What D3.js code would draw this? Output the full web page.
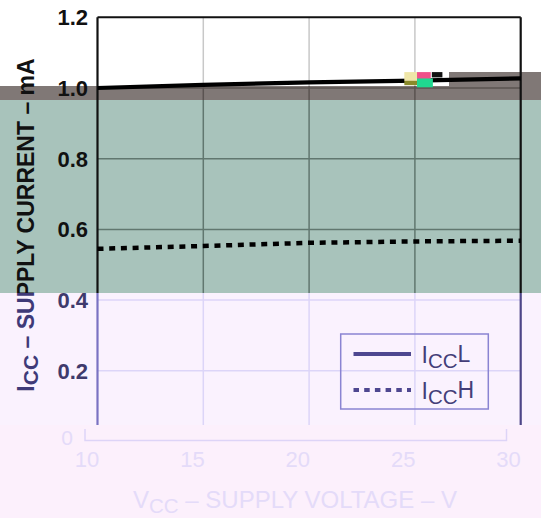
<!DOCTYPE html>
<html><head><meta charset="utf-8">
<script src="https://cdn.jsdelivr.net/npm/d3@7/dist/d3.min.js"></script>
<style>html,body{margin:0;padding:0;background:#fff}svg{display:block}</style>
</head><body>
<script>
// ---- data ----
const vcc = [10, 15, 20, 25, 30];
const iccL = [1.0, 1.009, 1.016, 1.021, 1.027];
const iccH = [0.545, 0.553, 0.562, 0.566, 0.568];
const xTicks = [10, 15, 20, 25, 30];
const yTicks = [0.2, 0.4, 0.6, 0.8, 1.0, 1.2];
const yZeroTick = [0];
const seriesNames = ["L", "H"];

const W = 541, H = 518;
const FONT = "'Liberation Sans', Arial, Helvetica, sans-serif";
const svg = d3.select("body").append("svg").attr("width", W).attr("height", H);

const x = d3.scaleLinear().domain([10, 30]).range([97.5, 520.7]);
const y = d3.scaleLinear().domain([0, 1.2]).range([441.5, 17.3]);
const xb = d3.scaleLinear().domain([10, 30]).range([86.5, 508]);

// colour bands of the reference picture
const bands = [
  {id: "top", rects: [[0, 0, 449, 86], [449, 0, 92, 72]], bg: "#ffffff",
   pal: {grid: "#c8c8c8", frameL: "#111", frameR: "#111", tick: "#111", title: "#111", line: "#000"}},
  {id: "gray", rects: [[0, 86, 541, 14], [449, 72, 92, 14]], bg: "#807876",
   pal: {grid: "#5a5351", frameL: "#111", frameR: "#111", tick: "#111", title: "#111", line: "#000"}},
  {id: "teal", rects: [[0, 100, 541, 193]], bg: "#a8c3bb",
   pal: {grid: "#61776f", frameL: "#111", frameR: "#111", tick: "#111", title: "#111", line: "#000"}},
  {id: "pink", rects: [[0, 293, 541, 132]], bg: "#faf2fe",
   pal: {grid: "#dcd5f8", frameL: "#7a72c2", frameR: "#4d4688", tick: "#3f3a6c", title: "#3f3a78",
         line: "#4e4790", box: "#8a84d2", legendText: "#443e78"}},
  {id: "bottom", rects: [[0, 425, 541, 93]], bg: "#fcf0fc", pal: null}
];

const defs = svg.append("defs");
bands.forEach(b => {
  const cp = defs.append("clipPath").attr("id", "clip-" + b.id);
  b.rects.forEach(r => cp.append("rect").attr("x", r[0]).attr("y", r[1]).attr("width", r[2]).attr("height", r[3]));
  b.rects.forEach(r => svg.append("rect").attr("x", r[0]).attr("y", r[1]).attr("width", r[2]).attr("height", r[3]).attr("fill", b.bg));
});

function drawChart(g, p) {
  // grid
  g.selectAll(".hg").data(yTicks.filter(v => v < 1.2)).join("line")
    .attr("x1", x(10)).attr("x2", x(30)).attr("y1", d => y(d)).attr("y2", d => y(d))
    .attr("stroke", p.grid).attr("stroke-width", 1.5);
  g.selectAll(".vg").data(xTicks.slice(1, -1)).join("line")
    .attr("x1", d => x(d)).attr("x2", d => x(d)).attr("y1", y(1.2)).attr("y2", y(0))
    .attr("stroke", p.grid).attr("stroke-width", 1.5);
  // frame
  g.append("line").attr("x1", x(10)).attr("x2", x(30)).attr("y1", y(1.2)).attr("y2", y(1.2)).attr("stroke", p.frameL).attr("stroke-width", 2);
  g.append("line").attr("x1", x(10)).attr("x2", x(10)).attr("y1", y(1.2)).attr("y2", y(0)).attr("stroke", p.frameL).attr("stroke-width", 2.2);
  g.append("line").attr("x1", x(30)).attr("x2", x(30)).attr("y1", y(1.2)).attr("y2", y(0)).attr("stroke", p.frameR).attr("stroke-width", 2.2);
  // y tick labels
  g.selectAll(".yt").data(yTicks).join("text")
    .attr("x", 88).attr("y", d => y(d)).attr("dy", "0.36em")
    .attr("text-anchor", "end").attr("font-family", FONT).attr("font-weight", "bold")
    .attr("font-size", 22).attr("fill", p.tick).text(d => d3.format(".1f")(d));
  // y title
  const t = g.append("text").attr("transform", "translate(33.5,225) rotate(-90)")
    .attr("text-anchor", "middle").attr("font-family", FONT).attr("font-weight", "bold")
    .attr("font-size", 23).attr("fill", p.title);
  t.append("tspan").text("I");
  t.append("tspan").attr("dy", 4).attr("font-size", 21).text("CC");
  t.append("tspan").attr("dy", -4).text(" \u2013 SUPPLY CURRENT \u2013 mA");
  // series
  const line = d3.line().x((d, i) => x(vcc[i])).y(d => y(d));
  g.append("path").datum(iccL).attr("d", line).attr("fill", "none")
    .attr("stroke", p.line).attr("stroke-width", 4.2);
  g.append("path").datum(iccH).attr("d", line).attr("fill", "none")
    .attr("stroke", p.line).attr("stroke-width", 4.5).attr("stroke-dasharray", "6 5.7");
  // legend
  if (p.box) {
    g.append("rect").attr("x", 340.7).attr("y", 334).attr("width", 147.6).attr("height", 75)
      .attr("fill", "none").attr("stroke", p.box).attr("stroke-width", 1.5);
    seriesNames.forEach((s, i) => {
      const ly = 354 + i * 36;
      g.append("line").attr("x1", 353.5).attr("x2", 411).attr("y1", ly).attr("y2", ly)
        .attr("stroke", p.line).attr("stroke-width", 4)
        .attr("stroke-dasharray", i === 0 ? null : "5.5 5.2");
      const lt = g.append("text").attr("x", 421.5).attr("y", ly + 9)
        .attr("font-family", FONT).attr("font-size", 23).attr("fill", p.legendText);
      lt.append("tspan").text("I");
      lt.append("tspan").attr("dy", 5).attr("font-size", 20.5).text("CC");
      lt.append("tspan").attr("dy", -6).text(s);
    });
  }
}

bands.filter(b => b.pal).forEach(b => {
  const g = svg.append("g").attr("clip-path", "url(#clip-" + b.id + ")");
  drawChart(g, b.pal);
});

// bottom (faded) band: x axis, zero label and x title
const gb = svg.append("g").attr("clip-path", "url(#clip-bottom)");
const faint = "#e4dbf9";
const ax = gb.append("g").attr("transform", "translate(-2,440)")
  .call(d3.axisBottom(xb).tickValues(xTicks).tickSize(0).tickSizeOuter(-11).tickPadding(11)
        .tickFormat(d3.format("d")));
ax.select(".domain").attr("stroke", "#ddd4f7").attr("stroke-width", 1.5);
ax.selectAll("text").attr("font-family", FONT).attr("font-size", 22).attr("fill", faint)
  .attr("transform", "translate(2,0)");
gb.selectAll(".y0").data(yZeroTick).join("text")
  .attr("x", 67).attr("y", d => y(d) + 3.5).attr("text-anchor", "middle")
  .attr("font-family", FONT).attr("font-size", 21).attr("fill", faint).text(d => d);
const xt = gb.append("text").attr("x", 295).attr("y", 508).attr("text-anchor", "middle")
  .attr("font-family", FONT).attr("font-size", 24).attr("fill", faint);
xt.append("tspan").text("V");
xt.append("tspan").attr("dy", 5).attr("font-size", 20.5).text("CC");
xt.append("tspan").attr("dy", -5).text(" \u2013 SUPPLY VOLTAGE \u2013 V");

// small colour glitch blocks seen in the reference near the IccL line
const glitch = [
  {x0: 24.5, x1: 25.1, y0: 1.045, y1: 1.02, c: "#efe6a8"},
  {x0: 24.5, x1: 25.1, y0: 1.02, y1: 1.008, c: "#8a8a2a"},
  {x0: 25.1, x1: 25.75, y0: 1.045, y1: 1.025, c: "#f0508a"},
  {x0: 25.1, x1: 25.85, y0: 1.027, y1: 1.002, c: "#20d890"},
  {x0: 25.8, x1: 26.3, y0: 1.045, y1: 1.03, c: "#111111"}
];
svg.append("g").selectAll("rect").data(glitch).join("rect")
  .attr("x", d => x(d.x0)).attr("y", d => y(d.y0))
  .attr("width", d => x(d.x1) - x(d.x0)).attr("height", d => y(d.y1) - y(d.y0))
  .attr("fill", d => d.c);
</script>
</body></html>
